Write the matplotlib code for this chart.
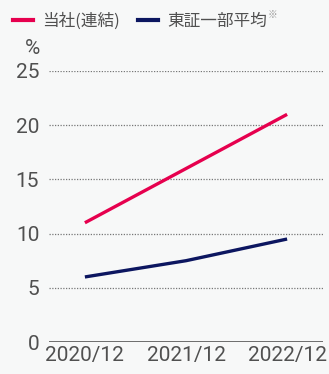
import matplotlib
matplotlib.use('Agg')
import matplotlib.pyplot as plt
from matplotlib.lines import Line2D

plt.rcParams['font.family'] = ['Noto Sans CJK JP', 'DejaVu Sans']

#Data
years = ['2020/12', '2021/12', '2022/12']
company = [11, 16, 21]
tse_avg = [6, 7.5, 9.5]
yticks = [0, 5, 10, 15, 20, 25]

red = '#e6004e'
navy = '#0c1660'
grey = '#505050'
bg = '#f7f8f8'

fig = plt.figure(figsize=(3.29, 3.74), dpi=100, facecolor=bg)
ax = fig.add_axes([49/329, 32/374, 274/329, 271/374], facecolor=bg)

x = range(len(years))
ax.plot(x, company, color=red, lw=2.4, solid_capstyle='butt', zorder=3)
ax.plot(x, tse_avg, color=navy, lw=2.4, solid_capstyle='butt', zorder=3)

ax.set_xlim(-0.355, 2.355)
ax.set_ylim(0, 25)
ax.set_yticks(yticks)
ax.set_xticks(list(x))
ax.set_xticklabels(years)

# dotted gridlines, solid zero line
for t in yticks[1:]:
    ax.axhline(t, color='#777777', lw=0.9, ls=(0, (1, 1.2)), zorder=1)
ax.axhline(0, color='#555555', lw=1.2, zorder=2)

for s in ax.spines.values():
    s.set_visible(False)
ax.tick_params(axis='both', length=0, colors=grey)
ax.tick_params(axis='y', pad=7)
ax.tick_params(axis='x', pad=3)
for lab in ax.get_xticklabels() + ax.get_yticklabels():
    lab.set_family(['Roboto', 'DejaVu Sans'])
    lab.set_fontsize(15)

fig.text(32/329, 1 - 48/374, '%', fontsize=15, color=grey, ha='center', va='center',
         family=['Roboto', 'DejaVu Sans'])

handles = [Line2D([], [], color=red, lw=3),
           Line2D([], [], color=navy, lw=3)]
leg = fig.legend(handles, ['当社(連結)', '東証一部平均'], loc='center left',
                 bbox_to_anchor=(13/329, 1 - 21/374), ncol=2, frameon=False,
                 fontsize=12, labelcolor=grey, handlelength=1.2, handletextpad=0.55,
                 columnspacing=1.1, borderaxespad=0, borderpad=0)

# small reference mark after the second legend label
fig.canvas.draw()
bb = leg.get_texts()[1].get_window_extent()
fig.text(bb.x1 / 329 + 0.002, 1 - 15/374, '※', fontsize=7, color='#999999',
         ha='left', va='center')

fig.savefig('out.png', dpi=100, facecolor=bg)
